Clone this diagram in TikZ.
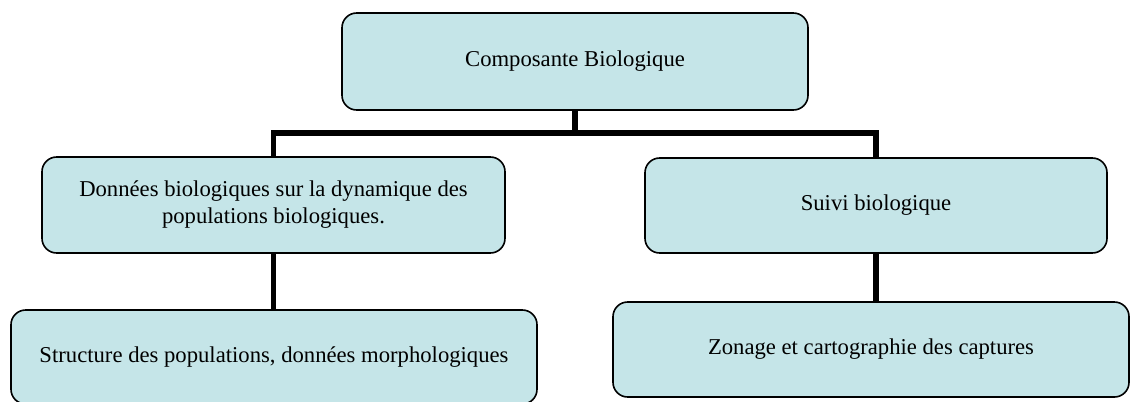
\documentclass[tikz,border=0pt]{standalone}
\usepackage{fontspec}
\setmainfont{Liberation Serif}
\definecolor{boxfill}{RGB}{197,229,232}
\begin{document}
\begin{tikzpicture}[x=0.75pt,y=-0.75pt,
  boxstyle/.style={draw=black,line width=1.2pt,fill=boxfill,rounded corners=11pt,
    inner sep=0pt,outer sep=0pt,align=center,
    font=\fontsize{17pt}{20.25pt}\selectfont},
  conn/.style={draw=black,line width=3.8pt,line join=miter}]
\useasboundingbox (0,0) rectangle (1130,401);
\begin{scope}
\clip (0,0) rectangle (1130,401);
\node[boxstyle,minimum width=349.5pt,minimum height=72.75pt] (top) at (575,61.5) {Composante Biologique};
\node[boxstyle,minimum width=347.25pt,minimum height=72pt] (left2) at (273.5,205) {\raisebox{-2pt}{\parbox{340pt}{\centering Données biologiques sur la dynamique des\\populations biologiques.}}};
\node[boxstyle,minimum width=346.5pt,minimum height=71.25pt] (right2) at (876,205.5) {Suivi biologique};
\node[boxstyle,minimum width=394.5pt,minimum height=70.5pt] (left3) at (274,357) {\raisebox{3pt}{Structure des populations, données morphologiques}};
\node[boxstyle,minimum width=387pt,minimum height=71.25pt] (right3) at (871,349.5) {\raisebox{-2pt}{Zonage et cartographie des captures}};
\coordinate (bar) at (575,133);
\draw[conn] (top.south) -- (top.south |- bar);
\draw[conn] (left2.north) -- (left2.north |- bar) -- (right2.north |- bar) -- (right2.north);
\draw[conn] (left2.south) -- (left2.south |- left3.north);
\draw[conn] (right2.south) -- (right2.south |- right3.north);
\end{scope}
\end{tikzpicture}
\end{document}
